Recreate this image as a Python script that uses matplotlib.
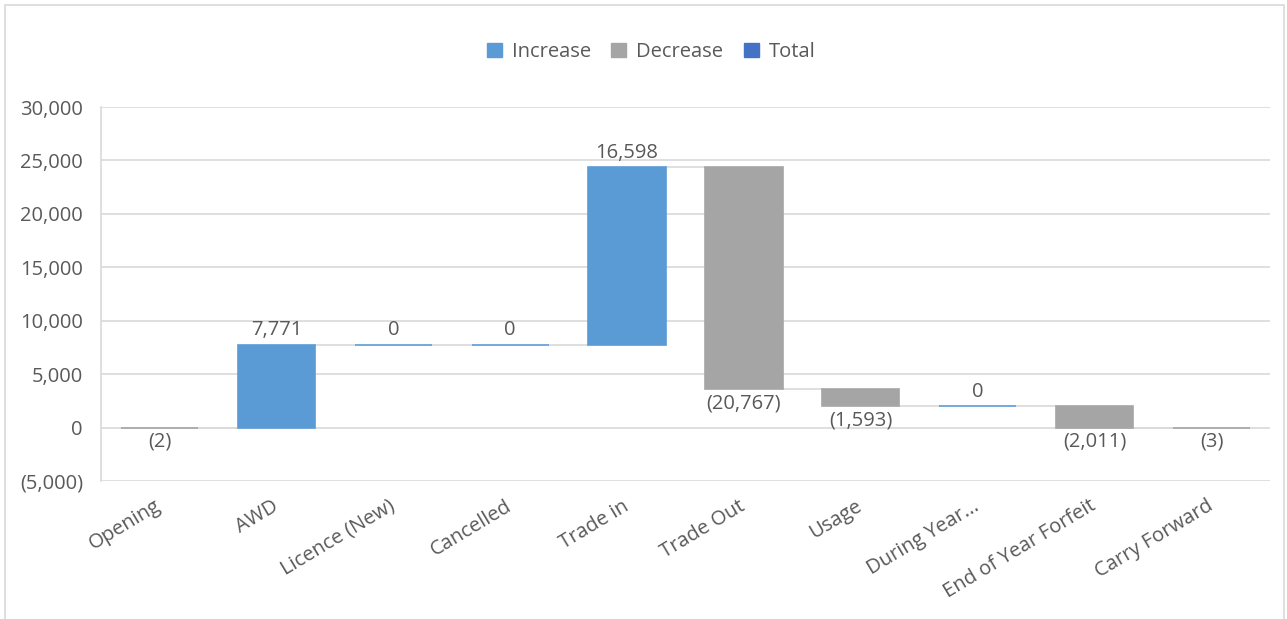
import matplotlib.pyplot as plt
from matplotlib.patches import Patch, Rectangle

# waterfall steps (each entry is a change applied to the running balance)
categories = ["Opening", "AWD", "Licence (New)", "Cancelled", "Trade in",
              "Trade Out", "Usage", "During Year...", "End of Year Forfeit",
              "Carry Forward"]
changes = [-2, 7771, 0, 0, 16598, -20767, -1593, 0, -2011, -3]

c_inc = "#5B9BD5"
c_dec = "#A5A5A5"
c_tot = "#4472C4"
c_text = "#595959"
c_grid = "#D9D9D9"


def fmt(v):
    if v < 0:
        return "({:,})".format(-v)
    return "{:,}".format(v)


plt.rcParams["font.family"] = ["Open Sans", "DejaVu Sans"]
plt.rcParams["font.size"] = 14.5

fig = plt.figure(figsize=(12.87, 6.19), dpi=100)
ax = fig.add_axes([0.0785, 0.2229, 0.9083, 0.6042])

width = 0.66
level = 0
for i, v in enumerate(changes):
    color = c_inc if v >= 0 else c_dec
    ax.bar(i, v, bottom=level, width=width, color=color, edgecolor=color,
           linewidth=1.2, zorder=3)
    top = level + v
    if v >= 0:
        ax.annotate(fmt(v), (i, top), xytext=(0, 3), textcoords="offset points",
                    ha="center", va="bottom", color=c_text)
    else:
        ax.annotate(fmt(v), (i, top), xytext=(0, -3), textcoords="offset points",
                    ha="center", va="top", color=c_text)
    level = top
    # connector to the next step
    if i < len(changes) - 1:
        ax.plot([i + width / 2, i + 1 - width / 2], [level, level],
                color=c_grid, lw=1.2, zorder=2)

ax.set_xlim(-0.5, len(categories) - 0.5)
ax.set_ylim(-5000, 30000)
ax.set_yticks(range(-5000, 30001, 5000))
ax.set_yticklabels([fmt(t) for t in range(-5000, 30001, 5000)])
ax.yaxis.grid(True, color=c_grid, lw=1.2, zorder=0)
ax.set_axisbelow(True)

ax.set_xticks(range(len(categories)))
ax.set_xticklabels(categories, rotation=31, ha="right", va="center",
                   rotation_mode="anchor")
ax.tick_params(axis="x", length=0, pad=17, colors=c_text)
ax.tick_params(axis="y", length=0, pad=13, colors=c_text)

for s in ["top", "right", "bottom"]:
    ax.spines[s].set_visible(False)
ax.spines["left"].set_color(c_grid)
ax.spines["left"].set_linewidth(1.2)

handles = [Patch(color=c_inc, label="Increase"),
           Patch(color=c_dec, label="Decrease"),
           Patch(color=c_tot, label="Total")]
leg = fig.legend(handles=handles, loc="center", bbox_to_anchor=(0.506, 0.916),
                 ncol=3, frameon=False, handlelength=0.75, handleheight=0.75,
                 handletextpad=0.5, columnspacing=1.0)
for t in leg.get_texts():
    t.set_color(c_text)

# chart border
fig.patches.append(Rectangle((5 / 1287, -0.01), 1279 / 1287, 1 - 5 / 619 + 0.01,
                             transform=fig.transFigure, fill=False,
                             edgecolor=c_grid, lw=1.2))

fig.savefig("out.png", dpi=100)
